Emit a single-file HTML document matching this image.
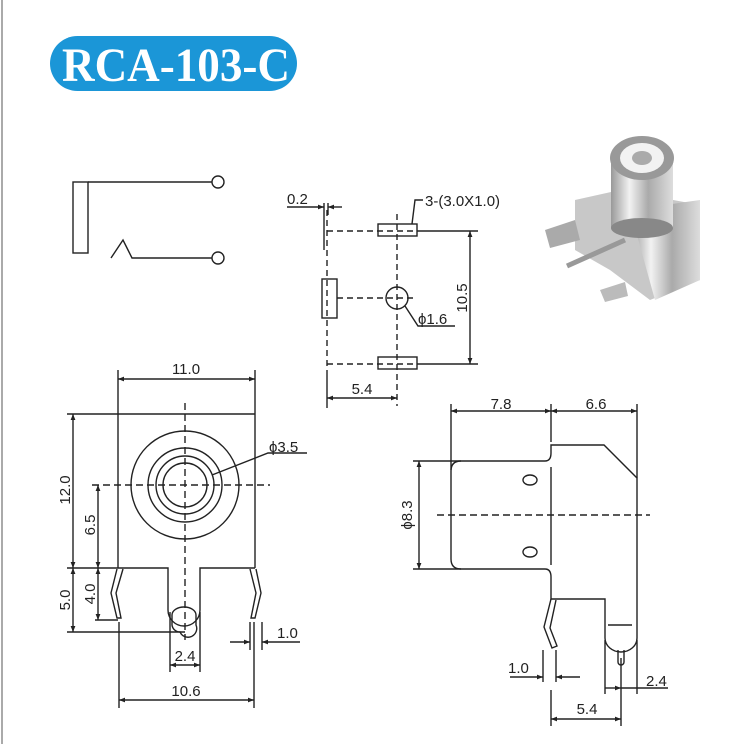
<!DOCTYPE html>
<html><head><meta charset="utf-8"><style>
html,body{margin:0;padding:0;background:#fff}
svg{display:block}
text{font-family:"Liberation Sans",sans-serif;font-size:15px;fill:#222}
</style></head><body>
<svg width="735" height="744" viewBox="0 0 735 744" xmlns="http://www.w3.org/2000/svg">
<defs>
<marker id="a" viewBox="0 0 10 10" refX="10" refY="5" markerWidth="9" markerHeight="6" orient="auto-start-reverse" markerUnits="userSpaceOnUse"><path d="M0,1 L10,5 L0,9 z" fill="#222"/></marker>
<linearGradient id="m" x1="0" x2="1"><stop offset="0" stop-color="#999"/><stop offset="0.3" stop-color="#f2f2f2"/><stop offset="0.6" stop-color="#aaa"/><stop offset="1" stop-color="#ddd"/></linearGradient>
</defs>
<line x1="2" y1="0" x2="2" y2="744" stroke="#aaa" stroke-width="2"/>
<!-- title -->
<rect x="50" y="36" width="247" height="55" rx="27.5" fill="#1b96d7"/>
<text x="62" y="81" textLength="228" lengthAdjust="spacingAndGlyphs" style="font-family:'Liberation Serif',serif;font-weight:bold;font-size:48px;fill:#fff">RCA-103-C</text>

<g fill="none" stroke="#222" stroke-width="1.4">
<!-- schematic -->
<rect x="73" y="182" width="15" height="71"/>
<line x1="88" y1="182" x2="212" y2="182"/>
<circle cx="218" cy="182" r="6"/>
<polyline points="111,258 123,240 132,258 212,258"/>
<circle cx="218" cy="258" r="6"/>

<!-- footprint -->
<g stroke-dasharray="6,4">
<line x1="327" y1="210" x2="327" y2="372"/>
<line x1="327" y1="231" x2="423" y2="231"/>
<line x1="327" y1="364" x2="423" y2="364"/>
<line x1="337" y1="298" x2="416" y2="298"/>
<line x1="397" y1="214" x2="397" y2="406"/>
</g>
<line x1="324" y1="203" x2="324" y2="250"/>
<line x1="328" y1="203" x2="328" y2="215"/>
<line x1="327" y1="372" x2="327" y2="408"/>
<rect x="378" y="224" width="39" height="12"/>
<rect x="378" y="357" width="39" height="12"/>
<rect x="322" y="279" width="15" height="39"/>
<circle cx="397" cy="298" r="11"/>
<line x1="423" y1="231" x2="478" y2="231"/>
<line x1="423" y1="364" x2="478" y2="364"/>
<line x1="470" y1="231" x2="470" y2="364" marker-start="url(#a)" marker-end="url(#a)"/>
<polyline points="405,306 418,326 455,326"/>
<polyline points="412,224 415,200 423,200"/>
<line x1="287" y1="207" x2="324" y2="207" marker-end="url(#a)"/>
<line x1="342" y1="207" x2="328" y2="207" marker-end="url(#a)"/>
<line x1="327" y1="398" x2="397" y2="398" marker-start="url(#a)" marker-end="url(#a)"/>

<!-- front view -->
<line x1="118" y1="370" x2="118" y2="568"/>
<line x1="255" y1="370" x2="255" y2="568"/>
<line x1="118" y1="379" x2="255" y2="379" marker-start="url(#a)" marker-end="url(#a)"/>
<line x1="67" y1="414" x2="255" y2="414"/>
<path d="M118,568 H168 V610 A16,16 0 0 0 200,610 V568 H255"/>
<path d="M172,615 A12,8 0 0 1 196,615 V625 A8,8 0 0 1 180,632 A8,8 0 0 1 172,625 Z"/>
<circle cx="185" cy="485" r="54"/>
<circle cx="185" cy="485" r="37"/>
<circle cx="185" cy="485" r="29"/>
<circle cx="185" cy="485" r="22"/>
<g stroke-dasharray="7,4">
<line x1="185" y1="403" x2="185" y2="640"/>
<line x1="92" y1="485" x2="270" y2="485"/>
</g>
<polyline points="212,475 268,453 307,453"/>
<line x1="73" y1="414" x2="73" y2="568" marker-start="url(#a)" marker-end="url(#a)"/>
<line x1="98" y1="485" x2="98" y2="568" marker-start="url(#a)" marker-end="url(#a)"/>
<line x1="67" y1="568" x2="118" y2="568"/>
<line x1="98" y1="568" x2="98" y2="620" marker-start="url(#a)" marker-end="url(#a)"/>
<line x1="95" y1="620" x2="118" y2="620"/>
<line x1="73" y1="568" x2="73" y2="632" marker-start="url(#a)" marker-end="url(#a)"/>
<line x1="67" y1="632" x2="185" y2="632"/>
<polyline points="117,569 111,593 117,618 121,618 116,593 123,569"/>
<polyline points="250,569 256,593 251,618 255,618 261,593 256,569"/>
<line x1="170" y1="612" x2="170" y2="672"/>
<line x1="200" y1="612" x2="200" y2="672"/>
<line x1="170" y1="665" x2="200" y2="665" marker-start="url(#a)" marker-end="url(#a)"/>
<line x1="119" y1="622" x2="119" y2="708"/>
<line x1="254" y1="622" x2="254" y2="708"/>
<line x1="119" y1="700" x2="254" y2="700" marker-start="url(#a)" marker-end="url(#a)"/>
<line x1="250" y1="622" x2="250" y2="650"/>
<line x1="262" y1="622" x2="262" y2="650"/>
<line x1="230" y1="642" x2="250" y2="642" marker-end="url(#a)"/>
<line x1="300" y1="642" x2="262" y2="642" marker-end="url(#a)"/>

<!-- side view -->
<line x1="451" y1="404" x2="451" y2="470"/>
<line x1="551" y1="404" x2="551" y2="442"/>
<line x1="637" y1="404" x2="637" y2="478"/>
<line x1="451" y1="411" x2="551" y2="411" marker-start="url(#a)" marker-end="url(#a)"/>
<line x1="551" y1="411" x2="637" y2="411" marker-start="url(#a)" marker-end="url(#a)"/>
<path d="M413,461 H545 Q551,461 551,453 V445 H604 L637,478 V638"/>
<path d="M413,569 H545 Q551,569 551,577 V599 H605 V638 A16,14 0 0 0 637,638"/>
<path d="M461,461 Q451,461 451,471 V559 Q451,569 461,569"/>
<line x1="551" y1="467" x2="551" y2="565"/>
<line x1="608" y1="625" x2="632" y2="625"/>
<path d="M618,650 V662 A3,3 0 0 0 624,662 V650"/>
<ellipse cx="530" cy="480" rx="7" ry="5"/>
<ellipse cx="530" cy="552" rx="7" ry="5"/>
<line x1="437" y1="515" x2="650" y2="515" stroke-dasharray="7,4"/>
<line x1="419" y1="461" x2="419" y2="569" marker-start="url(#a)" marker-end="url(#a)"/>
<polyline points="551,599 544,627 552,648 557,646 550,628 556,600"/>
<line x1="543" y1="650" x2="543" y2="682"/>
<line x1="556" y1="650" x2="556" y2="682"/>
<line x1="510" y1="677" x2="543" y2="677" marker-end="url(#a)"/>
<line x1="580" y1="677" x2="556" y2="677" marker-end="url(#a)"/>
<line x1="605" y1="640" x2="605" y2="694"/>
<line x1="621" y1="658" x2="621" y2="726"/>
<line x1="637" y1="640" x2="637" y2="694"/>
<line x1="605" y1="688" x2="621" y2="688" marker-end="url(#a)"/>
<line x1="668" y1="688" x2="621" y2="688"/>
<line x1="551" y1="690" x2="551" y2="726"/>
<line x1="551" y1="719" x2="621" y2="719" marker-start="url(#a)" marker-end="url(#a)"/>
</g>

<!-- labels -->
<text x="186" y="374" text-anchor="middle">11.0</text>
<text x="269" y="452">ϕ3.5</text>
<text transform="translate(70,490) rotate(-90)" text-anchor="middle">12.0</text>
<text transform="translate(95,525) rotate(-90)" text-anchor="middle">6.5</text>
<text transform="translate(95,594) rotate(-90)" text-anchor="middle">4.0</text>
<text transform="translate(70,600) rotate(-90)" text-anchor="middle">5.0</text>
<text x="185" y="661" text-anchor="middle">2.4</text>
<text x="186" y="696" text-anchor="middle">10.6</text>
<text x="277" y="638">1.0</text>
<text x="287" y="204">0.2</text>
<text x="425" y="206">3-(3.0X1.0)</text>
<text x="418" y="324">ϕ1.6</text>
<text transform="translate(467,298) rotate(-90)" text-anchor="middle">10.5</text>
<text x="362" y="394" text-anchor="middle">5.4</text>
<text x="501" y="409" text-anchor="middle">7.8</text>
<text x="596" y="409" text-anchor="middle">6.6</text>
<text transform="translate(412,515) rotate(-90)" text-anchor="middle">ϕ8.3</text>
<text x="508" y="673">1.0</text>
<text x="646" y="686">2.4</text>
<text x="587" y="714" text-anchor="middle">5.4</text>

<!-- photo -->
<g>
<polygon points="575,200 620,190 700,205 700,280 650,300 610,270 575,250" fill="#c8c8c8"/>
<polygon points="630,210 700,200 700,280 655,300" fill="url(#m)"/>
<polygon points="545,230 575,220 580,240 550,248" fill="#aaa"/>
<polygon points="600,290 625,282 628,296 605,302" fill="#bbb"/>
<line x1="567" y1="266" x2="625" y2="240" stroke="#999" stroke-width="5"/>
<rect x="611" y="158" width="62" height="70" fill="url(#m)"/>
<ellipse cx="642" cy="158" rx="32" ry="22" fill="#999"/>
<ellipse cx="642" cy="158" rx="22" ry="15" fill="#f2f2f2"/>
<ellipse cx="642" cy="158" rx="10" ry="7" fill="#aaa"/>
<ellipse cx="642" cy="228" rx="31" ry="10" fill="#888"/>
</g>
</svg>
</body></html>
